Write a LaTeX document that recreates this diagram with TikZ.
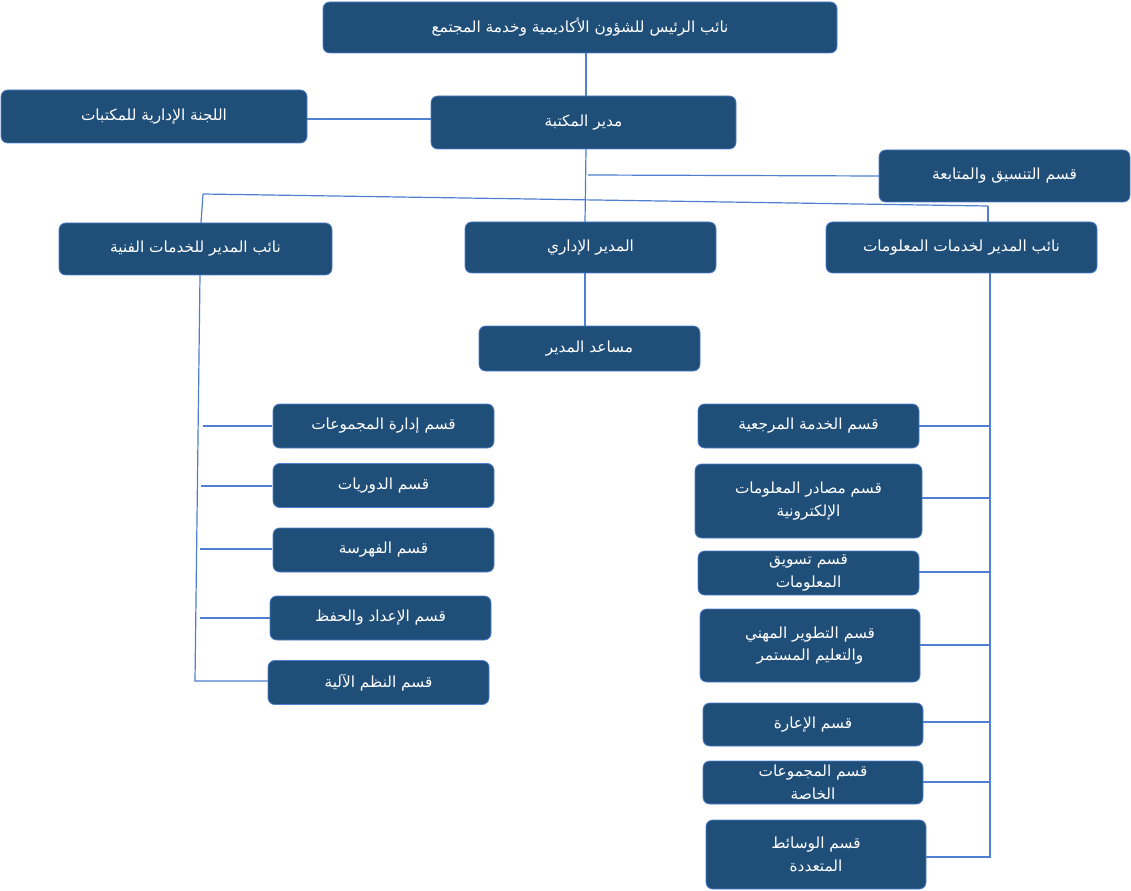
\documentclass[tikz,border=0pt]{standalone}
\usepackage{fontspec}
\TeXXeTstate=1
\newfontfamily\arabicfont[Script=Arabic]{DejaVu Sans}
\usetikzlibrary{calc}
\definecolor{boxfill}{HTML}{1F4E79}
\definecolor{boxline}{HTML}{4F7FD0}
\newcommand{\ar}[1]{{\arabicfont\beginR #1\endR}}
\tikzset{
  unit/.style={draw=boxline, fill=boxfill, text=white, rounded corners=5pt,
    font=\fontsize{11.5}{17}\selectfont, align=center, inner sep=2pt, line width=0.6pt},
  link/.style={draw=boxline, line width=0.9pt}
}
\begin{document}
\begin{tikzpicture}[x=0.75pt, y=-0.75pt]
\useasboundingbox (0,0) rectangle (1131,891);

% --- connectors ---
\coordinate (tap) at (588,175);
\coordinate (busL) at (203,194);
\coordinate (busR) at (988,206);
\coordinate (lend) at (195,681);
\coordinate (rend) at (990,857);

\draw[link] (586,53) -- (586,96);
\draw[link] (307,119) -- (431,119);
\draw[link] (tap) -- (879,176);
\draw[link] (586,149) -- (585,222);
\draw[link] (busL) -- (busR);
\draw[link] (busL) -- (201,223);
\draw[link] (busR) -- (988,222);
\draw[link] (585,273) -- (585,326);

% left spine
\draw[link] (200,275) -- (lend) -- (268,681);
\foreach \y/\x in {426/203,486/201,549/200,618/200}
  \draw[link] (\x,\y) -- (272,\y);

% right spine
\draw[link] (990,273) -- (rend) -- (926,857);
\foreach \y/\x in {426/919,498/922,572/919,645/920,722/923,782/923}
  \draw[link] (\x,\y) -- (990,\y);

% --- top levels ---
\node[unit, minimum width=514*0.75pt, minimum height=51*0.75pt] (vp) at (580,27.5) {\ar{نائب الرئيس للشؤون الأكاديمية وخدمة المجتمع}};
\node[unit, minimum width=306*0.75pt, minimum height=53*0.75pt] (comm) at (154,116.5) {\ar{اللجنة الإدارية للمكتبات}};
\node[unit, minimum width=305*0.75pt, minimum height=53*0.75pt] (dir) at (583.5,122.5) {\ar{مدير المكتبة}};
\node[unit, minimum width=251*0.75pt, minimum height=52*0.75pt] (coord) at (1004.5,176) {\ar{قسم التنسيق والمتابعة}};

% --- deputies ---
\node[unit, minimum width=273*0.75pt, minimum height=52*0.75pt] (tech) at (195.5,249) {\ar{نائب المدير للخدمات الفنية}};
\node[unit, minimum width=251*0.75pt, minimum height=51*0.75pt] (admin) at (590.5,247.5) {\ar{المدير الإداري}};
\node[unit, minimum width=271*0.75pt, minimum height=51*0.75pt] (info) at (961.5,247.5) {\ar{نائب المدير لخدمات المعلومات}};
\node[unit, minimum width=221*0.75pt, minimum height=45*0.75pt] (asst) at (589.5,348.5) {\ar{مساعد المدير}};

% --- technical services departments ---
\node[unit, minimum width=221*0.75pt, minimum height=44*0.75pt] (coll) at (383.5,426) {\ar{قسم إدارة المجموعات}};
\node[unit, minimum width=221*0.75pt, minimum height=44*0.75pt] (peri) at (383.5,485.5) {\ar{قسم الدوريات}};
\node[unit, minimum width=221*0.75pt, minimum height=44*0.75pt] (cata) at (383.5,550) {\ar{قسم الفهرسة}};
\node[unit, minimum width=221*0.75pt, minimum height=44*0.75pt] (prep) at (380.5,618) {\ar{قسم الإعداد والحفظ}};
\node[unit, minimum width=221*0.75pt, minimum height=44*0.75pt] (auto) at (378.5,682.5) {\ar{قسم النظم الآلية}};

% --- information services departments ---
\node[unit, minimum width=221*0.75pt, minimum height=44*0.75pt] (ref) at (808.5,426) {\ar{قسم الخدمة المرجعية}};
\node[unit, minimum width=227*0.75pt, minimum height=74*0.75pt] (elec) at (808.5,501) {\ar{قسم مصادر المعلومات}\\\ar{الإلكترونية}};
\node[unit, minimum width=221*0.75pt, minimum height=44*0.75pt] (mark) at (808.5,573) {\ar{قسم تسويق}\\\ar{المعلومات}};
\node[unit, minimum width=220*0.75pt, minimum height=73*0.75pt] (prof) at (810,645.5) {\ar{قسم التطوير المهني}\\\ar{والتعليم المستمر}};
\node[unit, minimum width=220*0.75pt, minimum height=43*0.75pt] (loan) at (813,724.5) {\ar{قسم الإعارة}};
\node[unit, minimum width=220*0.75pt, minimum height=43*0.75pt] (spec) at (813,782.5) {\ar{قسم المجموعات}\\\ar{الخاصة}};
\node[unit, minimum width=220*0.75pt, minimum height=69*0.75pt] (media) at (816,854.5) {\ar{قسم الوسائط}\\\ar{المتعددة}};
\end{tikzpicture}
\end{document}
